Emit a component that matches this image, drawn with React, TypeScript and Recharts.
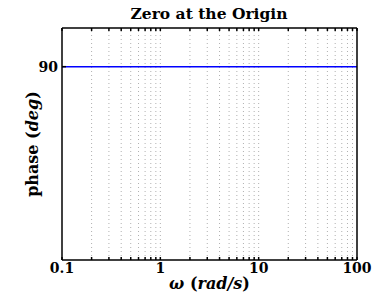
import { LineChart, Line, XAxis, YAxis, ReferenceLine } from "recharts";

// frequency samples (rad/s) and phase (deg)
const OMEGA = [0.1, 1, 10, 100];
const PHASE = [90, 90, 90, 90];

const X_TICKS = [0.1, 1, 10, 100];
const Y_TICKS = [90];
// dotted grid on the log decades
const GRID_X = [
  0.2, 0.3, 0.4, 0.5, 0.6, 0.7, 0.8, 0.9, 1,
  2, 3, 4, 5, 6, 7, 8, 9, 10,
  20, 30, 40, 50, 60, 70, 80, 90,
];
const ALL_TICKS = [...X_TICKS, ...GRID_X.filter((v) => !X_TICKS.includes(v))];

const data = OMEGA.map((w, i) => ({ w, phase: PHASE[i] }));

const FONT = "'DejaVu Serif', serif";

const XTick = (props: any) => {
  const { x, y, payload } = props;
  if (!X_TICKS.includes(payload.value)) return <g />;
  return (
    <text x={x} y={y + 14} textAnchor="middle" fontFamily={FONT} fontWeight="bold" fontSize={14} fill="#000">
      {payload.value}
    </text>
  );
};

const NoLabel = () => <g />;

export default function App() {
  return (
    <div style={{ position: "absolute", left: 0, top: 0, width: 375, height: 294, background: "#fff" }}>
      <LineChart width={375} height={294} data={data} margin={{ top: 27, right: 17, left: 0, bottom: 0 }}>
        <text x={209} y={19} textAnchor="middle" fontFamily={FONT} fontWeight="bold" fontSize={15.5} fill="#000">
          Zero at the Origin
        </text>
        {GRID_X.map((v) => (
          <ReferenceLine key={v} x={v} stroke="#b0b0b0" strokeDasharray="1 3" strokeWidth={1} />
        ))}
        <XAxis
          dataKey="w"
          type="number"
          scale="log"
          domain={[0.1, 100]}
          ticks={ALL_TICKS}
          allowDataOverflow
          height={34}
          stroke="#000"
          strokeWidth={1.5}
          tickSize={-3}
          tick={<XTick />}
          interval={0}
          label={{
            content: (p: any) => (
              <text x={p.viewBox.x + p.viewBox.width / 2} y={p.viewBox.y + 29} textAnchor="middle" fontFamily={FONT} fontWeight="bold" fontSize={16} fill="#000">
                <tspan fontStyle="italic">ω</tspan> (<tspan fontStyle="italic">rad/s</tspan>)
              </text>
            ),
          }}
        />
        <XAxis
          xAxisId="top"
          orientation="top"
          dataKey="w"
          type="number"
          scale="log"
          domain={[0.1, 100]}
          ticks={ALL_TICKS}
          allowDataOverflow
          height={1}
          stroke="#000"
          strokeWidth={1.5}
          tickSize={-3}
          tick={<NoLabel />}
          interval={0}
        />
        <YAxis
          type="number"
          domain={[0, 108]}
          ticks={Y_TICKS}
          width={62}
          stroke="#000"
          strokeWidth={1.5}
          tickSize={-4}
          tickMargin={8}
          tick={{ fontFamily: FONT, fontWeight: "bold", fontSize: 14, fill: "#000" }}
          label={{
            content: (p: any) => (
              <text
                x={p.viewBox.x + 38}
                y={p.viewBox.y + p.viewBox.height / 2}
                transform={`rotate(-90 ${p.viewBox.x + 38} ${p.viewBox.y + p.viewBox.height / 2})`}
                textAnchor="middle"
                fontFamily={FONT}
                fontWeight="bold"
                fontSize={16}
                fill="#000"
              >
                phase (<tspan fontStyle="italic">deg</tspan>)
              </text>
            ),
          }}
        />
        <YAxis
          yAxisId="right"
          orientation="right"
          type="number"
          domain={[0, 108]}
          ticks={Y_TICKS}
          width={1}
          stroke="#000"
          strokeWidth={1.5}
          tickSize={-4}
          tick={<NoLabel />}
        />
        <Line
          dataKey="phase"
          stroke="#0000ff"
          strokeWidth={1.5}
          dot={false}
          isAnimationActive={false}
        />
      </LineChart>
    </div>
  );
}
